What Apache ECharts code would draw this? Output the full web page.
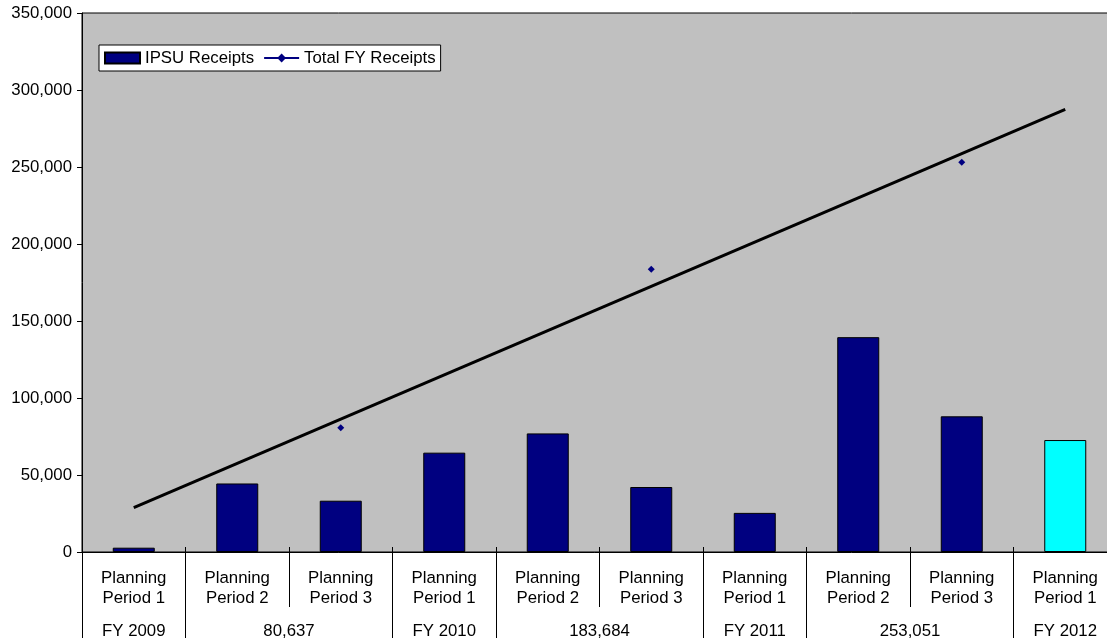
<!DOCTYPE html>
<html>
<head>
<meta charset="utf-8">
<script src="https://cdn.jsdelivr.net/npm/echarts@6/dist/echarts.min.js"></script>
<style>
    html, body { margin: 0; padding: 0; background: #fff; }
    #chart { width: 1107px; height: 638px; }
</style>
</head>
<body>
<div id="chart"></div>
<script>
    // categories (planning periods) and values
    var periods = ['Planning\nPeriod 1', 'Planning\nPeriod 2', 'Planning\nPeriod 3',
                   'Planning\nPeriod 1', 'Planning\nPeriod 2', 'Planning\nPeriod 3',
                   'Planning\nPeriod 1', 'Planning\nPeriod 2', 'Planning\nPeriod 3',
                   'Planning\nPeriod 1'];
    var ipsuReceipts = [2800, 44500, 33300, 64500, 77000, 42200, 25400, 139500, 88100, 72700];
    var totalFYReceipts = [null, null, 80637, null, null, 183684, null, null, 253051, null];
    // trend line ends (first and last period)
    var trendLine = [28800, null, null, null, null, null, null, null, null, 287400];
    // second label row and how many periods each entry covers
    var groupLabels = ['FY 2009', '80,637', 'FY 2010', '183,684', 'FY 2011', '253,051', 'FY 2012'];
    var groupSpans = [1, 2, 1, 2, 1, 2, 1];

    var font = 'Liberation Sans, Arial, sans-serif';
    var fs = 16.8;

    // where each group starts / its centre on a 0..N scale
    var groupStart = [], groupCenter = {};
    var acc = 0;
    groupSpans.forEach(function (s, i) {
        groupStart.push(acc);
        groupCenter[(acc + s / 2).toFixed(1)] = groupLabels[i];
        acc += s;
    });

    var barData = ipsuReceipts.map(function (v, i) {
        if (i === ipsuReceipts.length - 1) {
            return { value: v, itemStyle: { color: '#00FFFF' } };
        }
        return v;
    });

    var chart = echarts.init(document.getElementById('chart'));
    chart.setOption({
        animation: false,
        textStyle: { fontFamily: font },
        grid: {
            left: 82, top: 13, width: 1035, bottom: 86,
            outerBoundsMode: 'none', containLabel: false,
            show: true, backgroundColor: '#C0C0C0',
            borderColor: '#000', borderWidth: 1
        },
        legend: {
            left: 99, top: 45,
            backgroundColor: '#fff', borderColor: '#000', borderWidth: 1,
            padding: [4, 5], itemGap: 9,
            itemWidth: 35, itemHeight: 11,
            textStyle: { fontFamily: font, fontSize: fs, color: '#000', lineHeight: 18 },
            data: [
                { name: 'IPSU Receipts', icon: 'rect' },
                { name: 'Total FY Receipts' }
            ]
        },
        xAxis: [
            {
                type: 'category', data: periods, position: 'bottom',
                axisLine: { lineStyle: { color: '#000', width: 1 } },
                axisTick: { show: false },
                axisLabel: {
                    interval: 0, margin: 16, color: '#000',
                    fontFamily: font, fontSize: fs, lineHeight: 20
                }
            },
            {
                type: 'category', data: periods, position: 'bottom', offset: -5,
                axisLine: { show: false },
                axisTick: { show: true, length: 60, lineStyle: { color: '#000' } },
                axisLabel: { show: false }
            },
            {
                type: 'category', data: periods, position: 'bottom', offset: -5,
                axisLine: { show: false },
                axisTick: {
                    show: true, length: 91, lineStyle: { color: '#000' },
                    interval: function (idx) { return groupStart.indexOf(idx) >= 0; }
                },
                axisLabel: { show: false }
            },
            {
                type: 'value', position: 'bottom', min: 0, max: periods.length, interval: 0.5,
                axisLine: { show: false }, axisTick: { show: false }, splitLine: { show: false },
                axisLabel: {
                    margin: 69, color: '#000', fontFamily: font, fontSize: fs, lineHeight: 20,
                    showMinLabel: true, showMaxLabel: true,
                    formatter: function (v) { return groupCenter[v.toFixed(1)] || ''; }
                }
            }
        ],
        yAxis: {
            type: 'value', min: 0, max: 350000, interval: 50000,
            axisLine: { show: true, lineStyle: { color: '#000' } },
            axisTick: { show: true, length: 5, lineStyle: { color: '#000' } },
            splitLine: { show: false },
            axisLabel: { margin: 10, color: '#000', fontFamily: font, fontSize: fs }
        },
        series: [
            {
                name: 'IPSU Receipts', type: 'bar', xAxisIndex: 0,
                data: barData, barWidth: 42,
                itemStyle: { color: '#000080', borderColor: '#000', borderWidth: 1 }
            },
            {
                name: 'Total FY Receipts', type: 'line', xAxisIndex: 0,
                data: totalFYReceipts, connectNulls: false,
                symbol: 'diamond', symbolSize: 7, showSymbol: true,
                itemStyle: { color: '#000080' },
                lineStyle: { color: '#000080', width: 2 }
            },
            {
                name: 'trend', type: 'line', xAxisIndex: 0,
                data: trendLine, connectNulls: true, showSymbol: false, silent: true,
                lineStyle: { color: '#000', width: 3 }
            }
        ]
    });
</script>
</body>
</html>
